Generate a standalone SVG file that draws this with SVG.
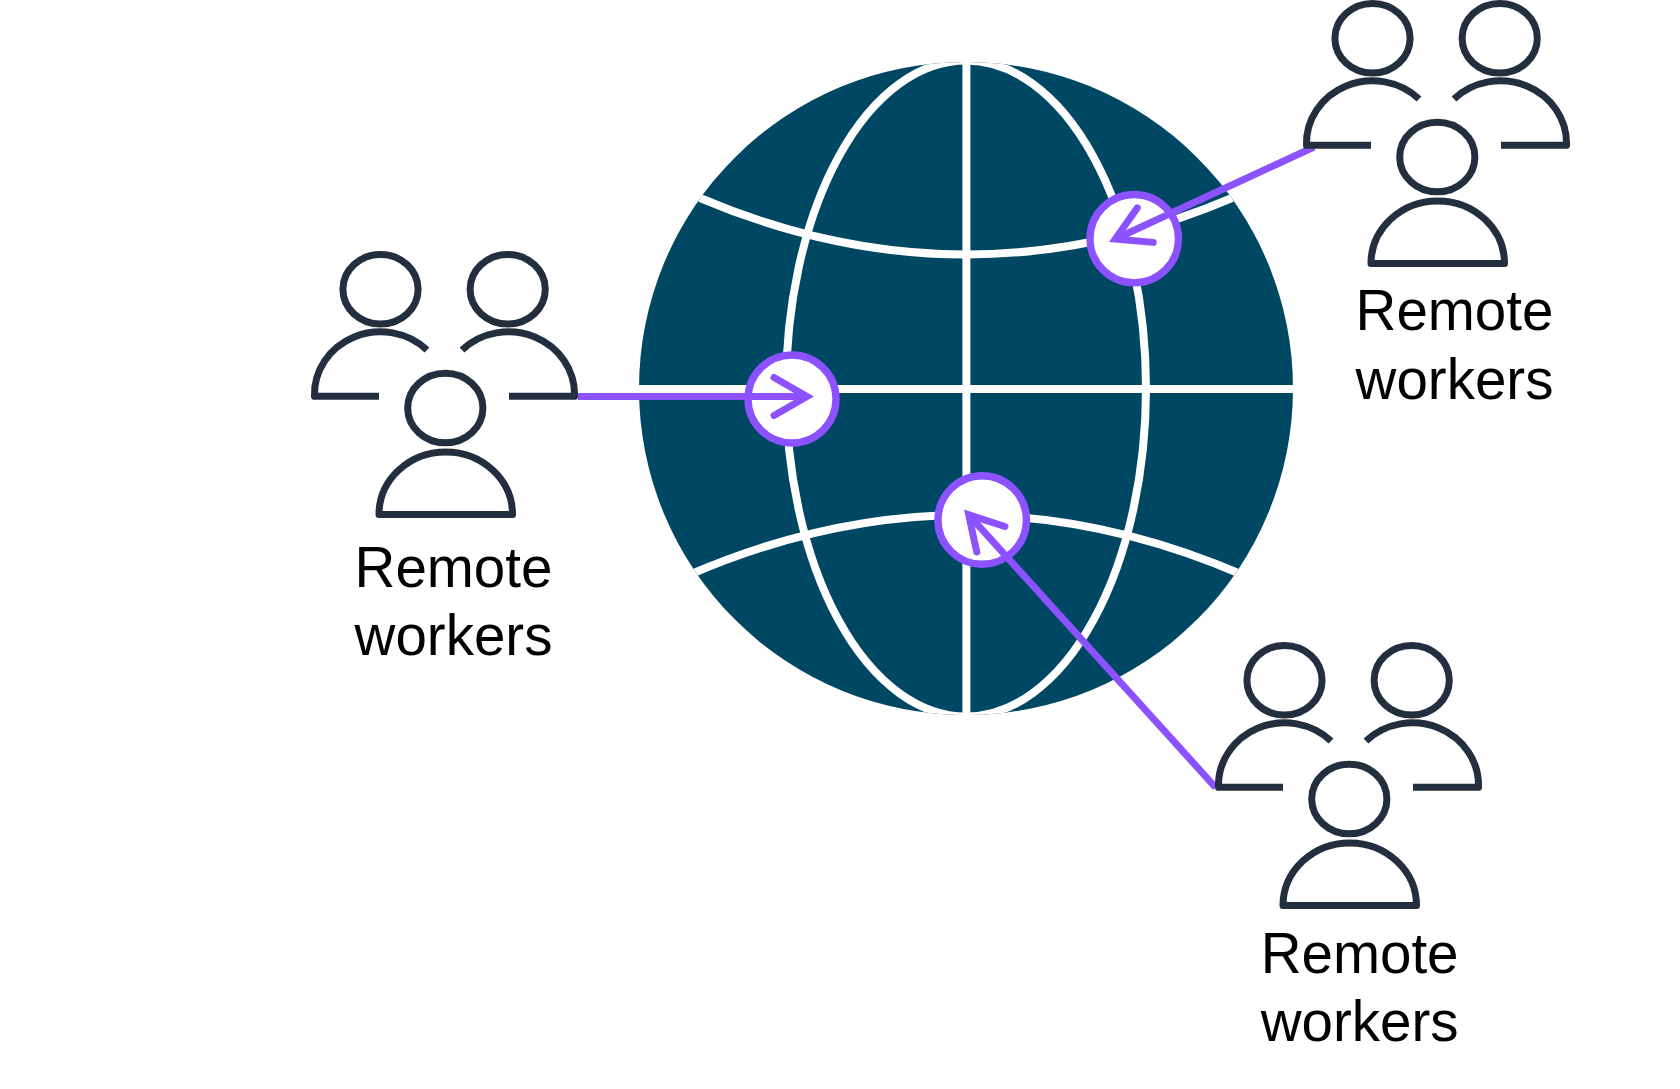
<svg xmlns="http://www.w3.org/2000/svg" width="1680" height="1089" viewBox="0 0 1680 1089">
<style>
.ink{fill:none;stroke:#232f3e;stroke-width:7;stroke-linejoin:round}
.grid{fill:none;stroke:#fff;stroke-width:8}
.hub{fill:#fff;stroke:#8c52ff;stroke-width:7.4}
.link{fill:none;stroke:#8c52ff;stroke-width:7;marker-end:url(#arrow)}
.label{font-family:"Liberation Sans",Arial,sans-serif;font-size:56.5px;fill:#000;text-anchor:middle}
</style>
<defs>
<marker id="arrow" markerUnits="userSpaceOnUse" viewBox="-45 -30 60 60" refX="0" refY="0" markerWidth="60" markerHeight="60" orient="auto">
<path d="M-33 -19L0 0L-33 19" fill="none" stroke="#8c52ff" stroke-width="7" stroke-linecap="round" stroke-linejoin="miter" stroke-miterlimit="6"/>
</marker>
<clipPath id="globeClip"><ellipse cx="966" cy="388.5" rx="327" ry="326.5"/></clipPath>
<g id="people">
<ellipse class="ink" cx="380.5" cy="289.3" rx="37.6" ry="34.8"/>
<ellipse class="ink" cx="507.7" cy="289.3" rx="37.6" ry="34.8"/>
<ellipse class="ink" cx="445.3" cy="408" rx="37.6" ry="34.8"/>
<path class="ink" d="M379 396.3H314.5A66 62.5 0 0 1 427 350"/>
<path class="ink" d="M509 396.3H574.5A66 62.5 0 0 0 462 350"/>
<path class="ink" d="M379 514.5H512.5A66.7 62.5 0 0 0 379 514.5Z"/>
</g>
</defs>
<rect width="1680" height="1089" fill="#fff"/>
<g id="globe">
<ellipse cx="966" cy="388.5" rx="327" ry="326.5" fill="#004763"/>
<g clip-path="url(#globeClip)">
<ellipse class="grid" cx="966" cy="388.5" rx="180" ry="328"/>
<path class="grid" d="M600 389H1330"/>
<path class="grid" d="M966.4 50V730"/>
<path class="grid" d="M700 198Q966 311 1232 198"/>
<path class="grid" d="M689 575Q966 455 1243 575"/>
</g>
</g>
<g id="hub-left"><circle class="hub" cx="792" cy="399" r="44"/></g>
<g id="hub-top"><circle class="hub" cx="1134.2" cy="238.7" r="44.2"/></g>
<g id="hub-bottom"><circle class="hub" cx="982.2" cy="520" r="44.2"/></g>
<g id="connectors">
<path class="link" d="M577.7 396.5H807"/>
<path class="link" d="M1314 147L1115.3 239"/>
<path class="link" d="M1215.7 787.6L968.7 514.8"/>
</g>
<g id="workers-left">
<use href="#people"/>
<text class="label" x="453.5" y="587">Remote</text>
<text class="label" x="453.5" y="655">workers</text>
</g>
<g id="workers-top">
<use href="#people" transform="translate(992 -251)"/>
<text class="label" x="1454.5" y="330">Remote</text>
<text class="label" x="1454.5" y="399">workers</text>
</g>
<g id="workers-bottom">
<use href="#people" transform="translate(904 391)"/>
<text class="label" x="1359.6" y="972.5">Remote</text>
<text class="label" x="1359.6" y="1041">workers</text>
</g>
</svg>
